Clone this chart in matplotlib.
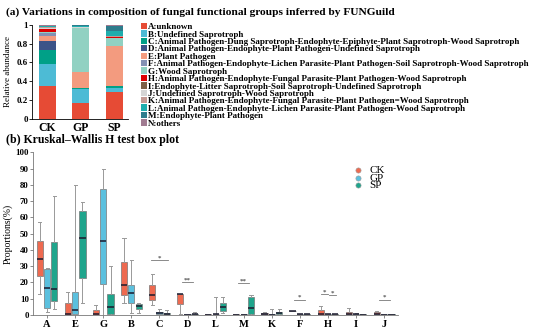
import matplotlib
matplotlib.use('Agg')
import matplotlib.pyplot as plt
import numpy as np

plt.rcParams['font.family'] = ['Liberation Serif', 'DejaVu Serif']
plt.rcParams['font.weight'] = 'bold'

# ---- (a) stacked composition ----
samples = ['CK', 'GP', 'SP']
guilds = ['A:unknown',
          'B:Undefined Saprotroph',
          'C:Animal Pathogen-Dung Saprotroph-Endophyte-Epiphyte-Plant Saprotroph-Wood Saprotroph',
          'D:Animal Pathogen-Endophyte-Plant Pathogen-Undefined Saprotroph',
          'E:Plant Pathogen',
          'F:Animal Pathogen-Endophyte-Lichen Parasite-Plant Pathogen-Soil Saprotroph-Wood Saprotroph',
          'G:Wood Saprotroph',
          'H:Animal Pathogen-Endophyte-Fungal Parasite-Plant Pathogen-Wood Saprotroph',
          'I:Endophyte-Litter Saprotroph-Soil Saprotroph-Undefined Saprotroph',
          'J:Undefined Saprotroph-Wood Saprotroph',
          'K:Animal Pathogen-Endophyte-Fungal Parasite-Plant Pathogen=Wood Saprotroph',
          'L:Animal Pathogen-Endophyte-Lichen Parasite-Plant Pathogen-Wood Saprotroph',
          'M:Endophyte-Plant Pathogen',
          'N:others']
guild_colors = ['#E64B35', '#4DBBD5', '#00A087', '#3C5488', '#F39B7F', '#8491B4',
                '#91D1C2', '#DC0000', '#7E6148', '#D5D5D5', '#C49A94', '#1FADAD',
                '#2E7C8C', '#A07B91']
ck_abund = [.35, .235, .145, .10, .05, .03, .01, .03, .005, .015, .01, .005, .005, .01]
gp_abund = [.165, .15, .012, .003, .165, .005, .465, .002, .001, .003, .004, .015, .005, .005]
sp_abund = [.285, .045, .02, .002, .42, .005, .085, .005, .002, .003, .01, .05, .06, .008]

# ---- (b) Kruskal-Wallis box plot ----
groups = ['CK', 'GP', 'SP']
group_colors = ['#EE6A50', '#5BC0DE', '#1FA58C']
box_cats = ['A', 'E', 'G', 'B', 'C', 'D', 'L', 'M', 'K', 'F', 'H', 'I', 'J']
# per category: (whislo, q1, med, q3, whishi) for CK, GP, SP
ck_box = [(13, 24, 34.5, 45.3, 57), (0, 0, 0.4, 7, 14), (0, 0, 0.5, 3, 6),
          (7, 12.5, 18.2, 32.6, 47.3), (6, 9, 12, 18.6, 25.4), (0.8, 6.4, 12.7, 13, 13),
          (0, 0, 0.1, 0.2, 0.4), (0, 0, 0.1, 0.2, 0.3), (0, 0.4, 0.6, 1.2, 1.8),
          (2.2, 2.2, 2.2, 2.2, 2.2), (0, 0, 0.8, 2.9, 5.5), (0, 0.4, 0.8, 1.8, 3.9),
          (0, 0.4, 0.8, 1.6, 2.5)]
gp_box = [(2, 4.3, 16.6, 28.5, 29), (0, 0.4, 3, 14, 80), (0, 19, 45.7, 77.3, 90),
          (1.2, 7.4, 13.5, 18.6, 34), (0, 0.4, 1, 1.6, 3.5), (0, 0, 0.1, 0.2, 0.5),
          (0, 0.2, 0.4, 0.8, 10.7), (0, 0, 0.1, 0.2, 0.3), (0, 0, 0.1, 0.2, 3.5),
          (0, 0.1, 0.2, 0.4, 0.6), (0, 0.1, 0.2, 0.3, 0.5), (0, 0.1, 0.3, 0.5, 1),
          (0, 0, 0.1, 0.2, 0.3)]
sp_box = [(3.5, 8.6, 15.6, 45, 73), (7, 22.7, 47.5, 63.7, 69.5), (0, 0.4, 5, 13, 30),
          (1.2, 3.3, 5.3, 6.6, 7.4), (0, 0.3, 0.8, 1.2, 3), (0, 0, 0.2, 0.4, 2),
          (1.2, 2.5, 5, 7.4, 10.7), (0, 0.8, 4.5, 11, 12), (0, 0.6, 1.2, 1.8, 3.5),
          (0, 0.1, 0.3, 0.4, 0.6), (0, 0.1, 0.2, 0.3, 0.5), (0, 0, 0.1, 0.2, 0.3),
          (0, 0, 0.1, 0.2, 0.3)]
# significance marks: (category, label, height, from offset, to offset)
sig_marks = [('C', '*', 33.5, -0.3, 0.3), ('D', '**', 20, -0.2, 0.2),
             ('M', '**', 19.5, -0.2, 0.2), ('F', '*', 9.4, -0.2, 0.2),
             ('H', '*', 13, -0.25, 0.0), ('H', '*', 12, 0.02, 0.27),
             ('J', '*', 9.4, -0.2, 0.2)]

fig = plt.figure(figsize=(5.5, 3.3), dpi=100)

# panel a
ax1 = fig.add_axes([0.058, 0.64, 0.175, 0.285])
x = np.arange(len(samples))
bottom = np.zeros(len(samples))
for i, name in enumerate(guilds):
    vals = np.array([ck_abund[i], gp_abund[i], sp_abund[i]])
    ax1.bar(x, vals, width=0.5, bottom=bottom, color=guild_colors[i], label=name)
    bottom += vals
ax1.set_xlim(-0.45, 2.4)
ax1.set_ylim(0, 1)
ax1.set_yticks([0, 0.2, 0.4, 0.6, 0.8, 1])
ax1.set_yticklabels(['0', '0.2', '0.4', '0.6', '0.8', '1'])
ax1.set_xticks(x)
ax1.set_xticklabels(samples, fontsize=8.5)
ax1.tick_params(axis='y', labelsize=6.5, length=2, width=0.6, pad=1)
ax1.tick_params(axis='x', length=0, pad=2)
ax1.set_ylabel('Relative abundance', fontsize=6.5, labelpad=3)
for s in ['top', 'right']:
    ax1.spines[s].set_visible(False)
for s in ['left', 'bottom']:
    ax1.spines[s].set_linewidth(0.6)
ax1.legend(loc='upper left', bbox_to_anchor=(1.13, 1.02), fontsize=6.5, frameon=False,
           handlelength=0.7, handleheight=0.7, handletextpad=0.15, labelspacing=-0.1,
           borderpad=0, borderaxespad=0)
fig.text(0.01, 0.962, '(a) Variations in composition of fungal functional groups inferred by FUNGuild',
         fontsize=8.2, fontweight='bold', va='center')

# panel b
ax2 = fig.add_axes([0.06, 0.046, 0.664, 0.492])
pos = np.arange(1, len(box_cats) + 1)
offsets = [-0.26, 0.0, 0.26]
for g, (data, col) in enumerate(zip([ck_box, gp_box, sp_box], group_colors)):
    stats = [dict(whislo=d[0], q1=d[1], med=d[2], q3=d[3], whishi=d[4], fliers=[])
             for d in data]
    ax2.bxp(stats, positions=pos + offsets[g], widths=0.22, patch_artist=True,
            showfliers=False, manage_ticks=False,
            boxprops=dict(facecolor=col, edgecolor='#777777', linewidth=0.5),
            medianprops=dict(color='#1a1a2e', linewidth=1.1),
            whiskerprops=dict(color='#999999', linewidth=0.7),
            capprops=dict(color='#999999', linewidth=0.7))
    ax2.scatter([], [], s=14, color=col, edgecolors='#999999', linewidths=0.4, label=groups[g])
for cat, lab, h, a, b in sig_marks:
    c = box_cats.index(cat) + 1
    ax2.plot([c + a, c + b], [h, h], color='#777777', lw=0.6)
    ax2.text(c + (a + b) / 2, h - 0.3, lab, ha='center', va='bottom', fontsize=5, color='#555555')
ax2.set_xlim(0.5, len(box_cats) + 0.5)
ax2.set_ylim(0, 100)
ax2.set_yticks(np.arange(0, 101, 10))
ax2.set_xticks(pos)
ax2.set_xticklabels(box_cats, fontsize=7.5)
ax2.tick_params(axis='y', labelsize=6.3, length=2, width=0.6, pad=1, color='#777777')
ax2.tick_params(axis='x', length=2, width=0.6, pad=2, color='#777777')
ax2.set_ylabel('Proportions(%)', fontsize=7, labelpad=2)
for s in ['top', 'right']:
    ax2.spines[s].set_visible(False)
for s in ['left', 'bottom']:
    ax2.spines[s].set_linewidth(0.6)
    ax2.spines[s].set_color('#777777')
ax2.legend(loc='upper left', bbox_to_anchor=(0.86, 0.92), frameon=False,
           handletextpad=0.0, labelspacing=-0.2, borderpad=0, borderaxespad=0,
           prop={'weight': 'normal', 'size': 8})
fig.text(0.01, 0.575, '(b) Kruskal\u2013Wallis H test box plot', fontsize=8.5,
         fontweight='bold', va='center')

plt.savefig('out.png', dpi=100)
